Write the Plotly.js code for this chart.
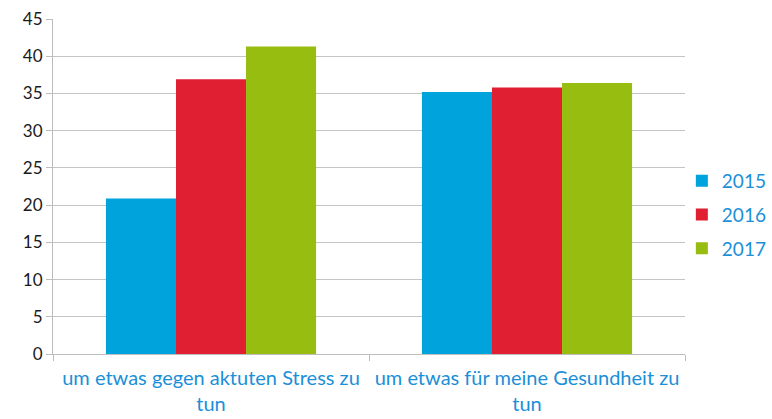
<!DOCTYPE html>
<html>
<head>
<meta charset="utf-8">
<script src="https://cdn.plot.ly/plotly-3.0.1.min.js"></script>
<style>html,body{margin:0;padding:0;background:#fff;}#chart{width:772px;height:419px;}</style>
</head>
<body>
<div id="chart"></div>
<script>
const categories = ["um etwas gegen aktuten Stress zu<br>tun", "um etwas für meine Gesundheit zu<br>tun"];
const years = ["2015", "2016", "2017"];
const values2015 = [20.9, 35.2];
const values2016 = [36.9, 35.8];
const values2017 = [41.3, 36.4];
const yTicks = [0, 5, 10, 15, 20, 25, 30, 35, 40, 45];

const colors = ["#00a3dc", "#e11f32", "#97bd10"];
const series = [values2015, values2016, values2017];

const traces = years.map((y, i) => ({
  type: "bar",
  name: y,
  x: categories,
  y: series[i],
  marker: {color: colors[i], line: {width: 0}},
  legendgroup: "g" + i,
  hoverinfo: "y"
}));

const layout = {
  width: 772, height: 419,
  margin: {l: 53, r: 87, t: 19, b: 65, autoexpand: false},
  paper_bgcolor: "#fff", plot_bgcolor: "#fff",
  font: {family: "Lato, 'Open Sans', sans-serif", size: 17, color: "#1a1a1a"},
  barmode: "group",
  bargap: 0.335,
  bargroupgap: 0,
  xaxis: {
    type: "category",
    tickson: "boundaries",
    ticks: "outside", ticklen: 6, tickcolor: "#bdbdbd", tickwidth: 1,
    showgrid: false,
    showline: true, linecolor: "#bdbdbd", linewidth: 1,
    tickfont: {color: "#1b8fd8", size: 20},
    ticklabelstandoff: 6,
    zeroline: false,
    automargin: false
  },
  yaxis: {
    range: [0, 45],
    tickvals: yTicks,
    ticktext: yTicks.map(String),
    ticks: "outside", ticklen: 6, tickcolor: "#bdbdbd",
    showgrid: true, gridcolor: "#c4c4c4", gridwidth: 1,
    showline: true, linecolor: "#bdbdbd", linewidth: 1,
    zeroline: false,
    tickfont: {color: "#1a1a1a", size: 17},
    automargin: false
  },
  showlegend: true,
  legend: {
    x: 0.995, xanchor: "left", y: 0.415, yanchor: "middle",
    font: {color: "#1b8fd8", size: 19},
    tracegroupgap: 6,
    bgcolor: "rgba(0,0,0,0)"
  }
};

Plotly.newPlot("chart", traces, layout, {displayModeBar: false, staticPlot: true});
</script>
</body>
</html>
